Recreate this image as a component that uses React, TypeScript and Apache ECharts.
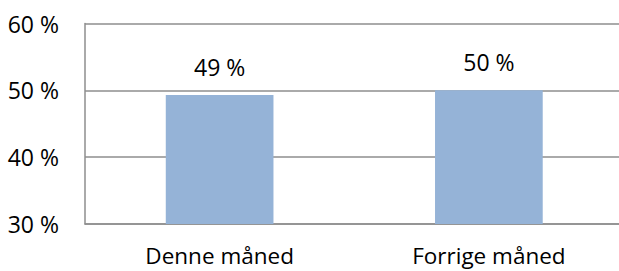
import React, { useEffect, useRef } from "react";
import * as echarts from "echarts";

const categories: string[] = ["Denne måned", "Forrige måned"];
const values: number[] = [49.3, 50.0];
const yTicks: number[] = [30, 40, 50, 60];

const FONT = "'Open Sans', 'Noto Sans', sans-serif";

export default function App() {
  const ref = useRef<HTMLDivElement | null>(null);

  useEffect(() => {
    if (!ref.current) return;
    const chart = echarts.init(ref.current, undefined, { renderer: "svg" });
    chart.setOption({
      animation: false,
      backgroundColor: "#ffffff",
      grid: { left: 85, top: 23.5, width: 538.5, height: 200.5, containLabel: false },
      xAxis: {
        type: "category",
        data: categories,
        axisLine: { show: true, lineStyle: { color: "#8e8e8e", width: 1.5 } },
        axisTick: { show: false },
        axisLabel: {
          color: "#000",
          fontFamily: FONT,
          fontSize: 22.5,
          margin: 20,
        },
      },
      yAxis: {
        type: "value",
        min: yTicks[0],
        max: yTicks[yTicks.length - 1],
        interval: 10,
        axisLine: { show: true, lineStyle: { color: "#8e8e8e", width: 1.5 } },
        axisTick: { show: false },
        splitLine: { show: true, lineStyle: { color: "#8e8e8e", width: 1.5 } },
        axisLabel: {
          color: "#000",
          fontFamily: FONT,
          fontSize: 23,
          margin: 26,
          padding: [2, 0, 0, 0],
          formatter: (v: number) => `${v} %`,
        },
      },
      series: [
        {
          type: "bar",
          data: values,
          barWidth: "40%",
          itemStyle: { color: "#95B3D7" },
          label: {
            show: true,
            position: "top",
            distance: 17,
            color: "#000",
            fontFamily: FONT,
            fontSize: 23,
            formatter: (p: any) => `${Math.round(p.value)} %`,
          },
        },
      ],
    });
    return () => chart.dispose();
  }, []);

  return (
    <div
      style={{
        position: "fixed",
        left: 0,
        top: 0,
        width: 619,
        height: 271,
        overflow: "hidden",
        background: "#fff",
      }}
    >
      <div ref={ref} style={{ width: 630, height: 271 }} />
    </div>
  );
}
